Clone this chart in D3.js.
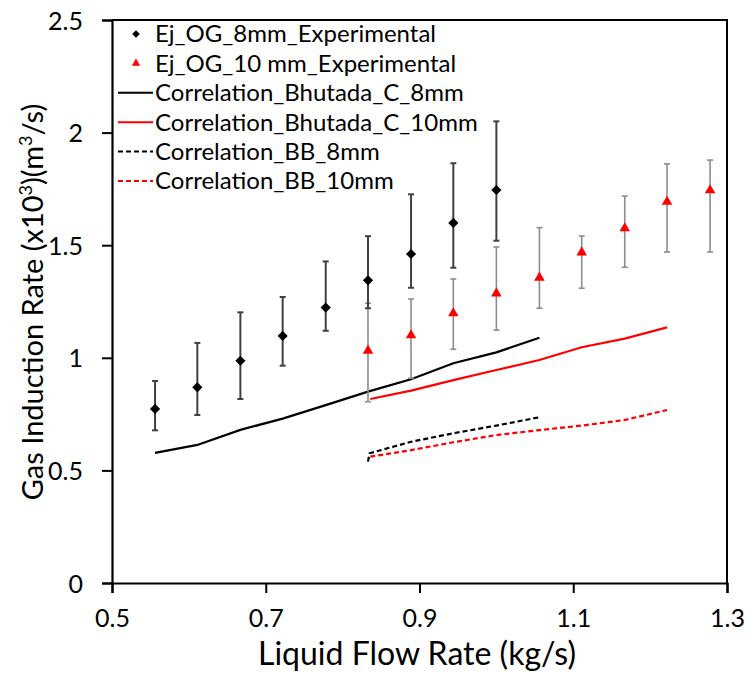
<!DOCTYPE html>
<html>
<head>
<meta charset="utf-8">
<script src="https://cdn.jsdelivr.net/npm/d3@7"></script>
<style>
  body { margin: 0; background: #fff; }
  text { font-family: Lato, "Open Sans", sans-serif; fill: #000; }
</style>
</head>
<body>
<div id="chart"></div>
<script>
// liquid flow rate (kg/s)
const flow8 = [0.556, 0.611, 0.667, 0.722, 0.778, 0.833, 0.889, 0.944, 1.0];
const flow10 = [0.833, 0.889, 0.944, 1.0, 1.056, 1.111, 1.167, 1.222, 1.278];

// experimental gas induction rate (x10^3 m3/s) with error bar ends
const exp8 = [0.773, 0.869, 0.987, 1.097, 1.223, 1.344, 1.461, 1.599, 1.745];
const exp8Lo = [0.678, 0.746, 0.817, 0.965, 1.12, 1.22, 1.311, 1.40, 1.52];
const exp8Hi = [0.897, 1.066, 1.202, 1.27, 1.428, 1.54, 1.726, 1.864, 2.05];

const exp10 = [1.032, 1.10, 1.198, 1.286, 1.356, 1.468, 1.575, 1.693, 1.744];
const exp10Lo = [0.805, 0.909, 1.038, 1.123, 1.22, 1.309, 1.402, 1.47, 1.47];
const exp10Hi = [1.242, 1.261, 1.35, 1.492, 1.578, 1.541, 1.718, 1.861, 1.878];

// correlations
const bhutadaFlow8 = [0.556, 0.611, 0.667, 0.722, 0.778, 0.833, 0.889, 0.944, 1.0, 1.056];
const bhutada8 = [0.578, 0.613, 0.68, 0.73, 0.79, 0.85, 0.905, 0.976, 1.024, 1.089];
const bhutadaFlow10 = [0.836, 0.889, 0.944, 1.0, 1.056, 1.111, 1.167, 1.222];
const bhutada10 = [0.817, 0.854, 0.901, 0.946, 0.99, 1.047, 1.085, 1.135];
const bbFlow8 = [0.833, 0.835, 0.889, 0.944, 1.0, 1.056];
const bb8 = [0.539, 0.576, 0.627, 0.665, 0.699, 0.736];
const bbFlow10 = [0.836, 0.889, 0.944, 1.0, 1.056, 1.111, 1.167, 1.222];
const bb10 = [0.561, 0.59, 0.625, 0.657, 0.679, 0.699, 0.724, 0.768];

const xTicks = [0.5, 0.7, 0.9, 1.1, 1.3];
const yTicks = [0, 0.5, 1, 1.5, 2, 2.5];

const legendItems = [
  { label: "Ej_OG_8mm_Experimental", type: "diamond", color: "#000" },
  { label: "Ej_OG_10 mm_Experimental", type: "triangle", color: "#ff0000" },
  { label: "Correlation_Bhutada_C_8mm", type: "line", color: "#000", dash: null },
  { label: "Correlation_Bhutada_C_10mm", type: "line", color: "#ff0000", dash: null },
  { label: "Correlation_BB_8mm", type: "line", color: "#000", dash: "5,3" },
  { label: "Correlation_BB_10mm", type: "line", color: "#ff0000", dash: "5,3" }
];

const width = 748;
const height = 675;
const plotLeft = 112, plotRight = 727, plotTop = 20, plotBottom = 583;

const svg = d3.select("#chart")
  .append("svg")
  .attr("width", width)
  .attr("height", height);

const x = d3.scaleLinear().domain([0.5, 1.3]).range([plotLeft, plotRight]);
const y = d3.scaleLinear().domain([0, 2.5]).range([plotBottom, plotTop]);

// frame (top and right)
svg.append("path")
  .attr("d", `M${plotLeft},${plotTop}H${plotRight}V${plotBottom}`)
  .attr("fill", "none")
  .attr("stroke", "#000")
  .attr("stroke-width", 2);

const xAxis = svg.append("g")
  .attr("transform", `translate(0,${plotBottom})`)
  .call(d3.axisBottom(x).tickValues(xTicks).tickFormat(d3.format(".1f")).tickSize(10).tickPadding(16));

const yAxis = svg.append("g")
  .attr("transform", `translate(${plotLeft},0)`)
  .call(d3.axisLeft(y).tickValues(yTicks).tickFormat(d => d).tickSize(10).tickPadding(19));

[xAxis, yAxis].forEach(g => {
  g.select(".domain").attr("stroke-width", 2.2);
  g.selectAll(".tick line").attr("stroke-width", 2);
  g.selectAll(".tick text").style("font-size", "25px");
});
yAxis.selectAll(".tick text").attr("dy", "0.36em");

// axis titles
svg.append("text")
  .attr("x", 417)
  .attr("y", 665)
  .attr("text-anchor", "middle")
  .style("font-size", "32px")
  .text("Liquid Flow Rate (kg/s)");

const yTitle = svg.append("text")
  .attr("transform", "translate(43,302) rotate(-90)")
  .attr("text-anchor", "middle")
  .style("font-size", "29px");
yTitle.append("tspan").text("Gas Induction Rate (x10");
yTitle.append("tspan").attr("dy", -11).style("font-size", "18px").text("3");
yTitle.append("tspan").attr("dy", 11).text(")(m");
yTitle.append("tspan").attr("dy", -11).style("font-size", "18px").text("3");
yTitle.append("tspan").attr("dy", 11).text("/s)");

// correlation lines
const line = d3.line().x(d => x(d[0])).y(d => y(d[1]));
const corr = [
  { xs: bhutadaFlow8, ys: bhutada8, color: "#000", dash: null },
  { xs: bhutadaFlow10, ys: bhutada10, color: "#ff0000", dash: null },
  { xs: bbFlow8, ys: bb8, color: "#000", dash: "5,3" },
  { xs: bbFlow10, ys: bb10, color: "#ff0000", dash: "5,3" }
];
corr.forEach(c => {
  svg.append("path")
    .datum(d3.zip(c.xs, c.ys))
    .attr("d", line)
    .attr("fill", "none")
    .attr("stroke", c.color)
    .attr("stroke-width", 2.2)
    .attr("stroke-dasharray", c.dash);
});

// error bars
function errorBars(xs, lo, hi, color, w) {
  const g = svg.append("g").attr("stroke", color).attr("stroke-width", w);
  xs.forEach((v, i) => {
    const cx = x(v);
    g.append("line").attr("x1", cx).attr("x2", cx).attr("y1", y(lo[i])).attr("y2", y(hi[i]));
    g.append("line").attr("x1", cx - 3).attr("x2", cx + 3).attr("y1", y(lo[i])).attr("y2", y(lo[i]));
    g.append("line").attr("x1", cx - 3).attr("x2", cx + 3).attr("y1", y(hi[i])).attr("y2", y(hi[i]));
  });
}
errorBars(flow10, exp10Lo, exp10Hi, "#8c8c8c", 1.6);
errorBars(flow8, exp8Lo, exp8Hi, "#404040", 2);

const diamond = d3.symbol(d3.symbolSquare, 52);
const triangle = d3.symbol(d3.symbolTriangle, 48);

svg.append("g").selectAll("path")
  .data(d3.zip(flow8, exp8))
  .join("path")
  .attr("d", diamond)
  .attr("transform", d => `translate(${x(d[0])},${y(d[1])}) rotate(45)`)
  .attr("fill", "#000");

svg.append("g").selectAll("path")
  .data(d3.zip(flow10, exp10))
  .join("path")
  .attr("d", triangle)
  .attr("transform", d => `translate(${x(d[0])},${y(d[1])})`)
  .attr("fill", "#ff0000");

// legend
const legend = svg.append("g");
legendItems.forEach((item, i) => {
  const ly = 34 + i * 29.4;
  if (item.type === "diamond") {
    legend.append("path").attr("d", d3.symbol(d3.symbolSquare, 30))
      .attr("transform", `translate(136,${ly}) rotate(45)`).attr("fill", item.color);
  } else if (item.type === "triangle") {
    legend.append("path").attr("d", d3.symbol(d3.symbolTriangle, 30))
      .attr("transform", `translate(136,${ly})`).attr("fill", item.color);
  } else {
    legend.append("line")
      .attr("x1", 118).attr("x2", 153).attr("y1", ly).attr("y2", ly)
      .attr("stroke", item.color).attr("stroke-width", 2)
      .attr("stroke-dasharray", item.dash);
  }
  legend.append("text")
    .attr("x", 155)
    .attr("y", ly)
    .attr("dy", "0.35em")
    .style("font-size", "24px")
    .text(item.label);
});
</script>
</body>
</html>
